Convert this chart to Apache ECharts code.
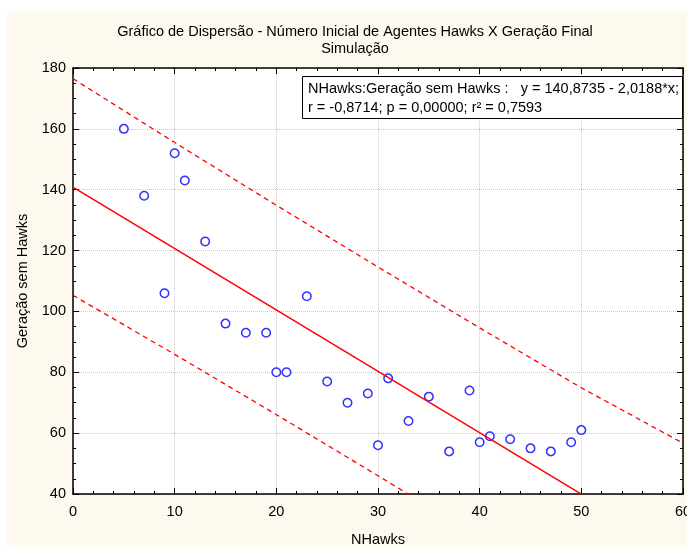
<!DOCTYPE html>
<html>
<head>
<meta charset="utf-8">
<script src="https://cdn.jsdelivr.net/npm/echarts@6/dist/echarts.min.js"></script>
<style>
  html, body { margin: 0; padding: 0; background: #fff; }
  #chart { width: 687px; height: 547px; }
</style>
</head>
<body>
<div id="chart"></div>
<script>
// pontos (NHawks, Geração sem Hawks)
const nHawks = [5, 7, 9, 10, 11, 13, 15, 17, 19, 20, 21, 23, 25, 27, 29, 30, 31, 33, 35, 37, 39, 40, 41, 43, 45, 47, 49, 50]
const geracao = [160, 138, 106, 152, 143, 123, 96, 93, 93, 80, 80, 105, 77, 70, 73, 56, 78, 64, 72, 54, 74, 57, 59, 58, 55, 54, 57, 61]

// reta de regressão e faixas
const fitX = [0, 50]
const fitY = [140.87, 39.93]
const bandX = [0, 10, 20, 30, 40, 50, 60]
const upperY = [176.5, 155.5, 134.9, 114.6, 94.6, 74.9, 56.7]
const lowerY = [105.3, 85.9, 66.1, 46.0, 25.6, 4.9, -17]

const titleText = 'Gráfico de Dispersão - Número Inicial de Agentes Hawks X Geração Final'
const subText = 'Simulação'
const boxText = 'NHawks:Geração sem Hawks :   y = 140,8735 - 2,0188*x;\nr = -0,8714; p = 0,00000; r² = 0,7593'

const font = 'Liberation Sans, Arial, sans-serif'
const fs = 14.5
const pair = (xs, ys) => xs.map((x, i) => [x, ys[i]])

function axisBase(show, split) {
  return {
    axisLine: { show: true, onZero: false, lineStyle: { color: '#000', width: 1.5 } },
    axisTick: { show: true, inside: true, length: 6, lineStyle: { color: '#000' } },
    minorTick: { show: true, splitNumber: split, length: 3, lineStyle: { color: '#000' } },
    axisLabel: { show: show, color: '#000', fontFamily: font, fontSize: fs },
    splitLine: { show: false }
  }
}

let myChart = echarts.init(document.getElementById('chart'))
myChart.setOption({
  animation: false,
  backgroundColor: '#fff',
  graphic: [{
    type: 'rect', z: -10,
    shape: { x: 7, y: 11, width: 680, height: 536 },
    style: { fill: '#fdf9ee' }
  }],
  title: [
    {
      text: titleText + '\n' + subText,
      left: 355, top: 23, padding: 0,
      textAlign: 'center',
      textStyle: { fontFamily: font, fontSize: fs, fontWeight: 'normal', color: '#000', lineHeight: 17 }
    },
    {
      text: boxText,
      left: 302, top: 76,
      padding: [3, 4, 2, 6],
      backgroundColor: '#fff',
      borderColor: '#000',
      borderWidth: 1,
      textStyle: { fontFamily: font, fontSize: fs, fontWeight: 'normal', color: '#000', lineHeight: 19 }
    }
  ],
  grid: {
    left: 73, right: 4, top: 68, bottom: 53,
    outerBoundsMode: 'none', containLabel: false,
    backgroundColor: '#fff', show: true, borderWidth: 0
  },
  xAxis: [
    Object.assign(axisBase(true, 5), {
      type: 'value', min: 0, max: 60, interval: 10,
      axisLabel: { color: '#000', fontFamily: font, fontSize: fs, margin: 10 },
      splitLine: { show: true, lineStyle: { color: '#c8c8c8', type: [1, 1] } },
      name: 'NHawks', nameLocation: 'middle', nameGap: 38,
      nameTextStyle: { fontFamily: font, fontSize: fs, color: '#000' }
    }),
    Object.assign(axisBase(false, 5), {
      type: 'value', position: 'top', min: 0, max: 60, interval: 10
    })
  ],
  yAxis: [
    Object.assign(axisBase(true, 4), {
      type: 'value', min: 40, max: 180, interval: 20,
      axisLabel: { color: '#000', fontFamily: font, fontSize: fs, margin: 7 },
      splitLine: { show: true, lineStyle: { color: '#c8c8c8', type: [1, 1] } },
      name: 'Geração sem Hawks', nameLocation: 'middle', nameGap: 43,
      nameTextStyle: { fontFamily: font, fontSize: fs, color: '#000' }
    }),
    Object.assign(axisBase(false, 4), {
      type: 'value', position: 'right', min: 40, max: 180, interval: 20
    })
  ],
  series: [
    {
      type: 'line', data: pair(bandX, upperY), symbol: 'none', clip: true,
      lineStyle: { color: '#ff0000', width: 1.3, type: [5, 4] }
    },
    {
      type: 'line', data: pair(bandX, lowerY), symbol: 'none', clip: true,
      lineStyle: { color: '#ff0000', width: 1.3, type: [5, 4] }
    },
    {
      type: 'line', data: pair(fitX, fitY), symbol: 'none', clip: true,
      lineStyle: { color: '#ff0000', width: 1.5 }
    },
    {
      type: 'scatter', data: pair(nHawks, geracao),
      symbol: 'circle', symbolSize: 8.5,
      itemStyle: { color: '#fff', borderColor: '#0000ff', borderWidth: 1.5 }
    }
  ]
})
</script>
</body>
</html>
